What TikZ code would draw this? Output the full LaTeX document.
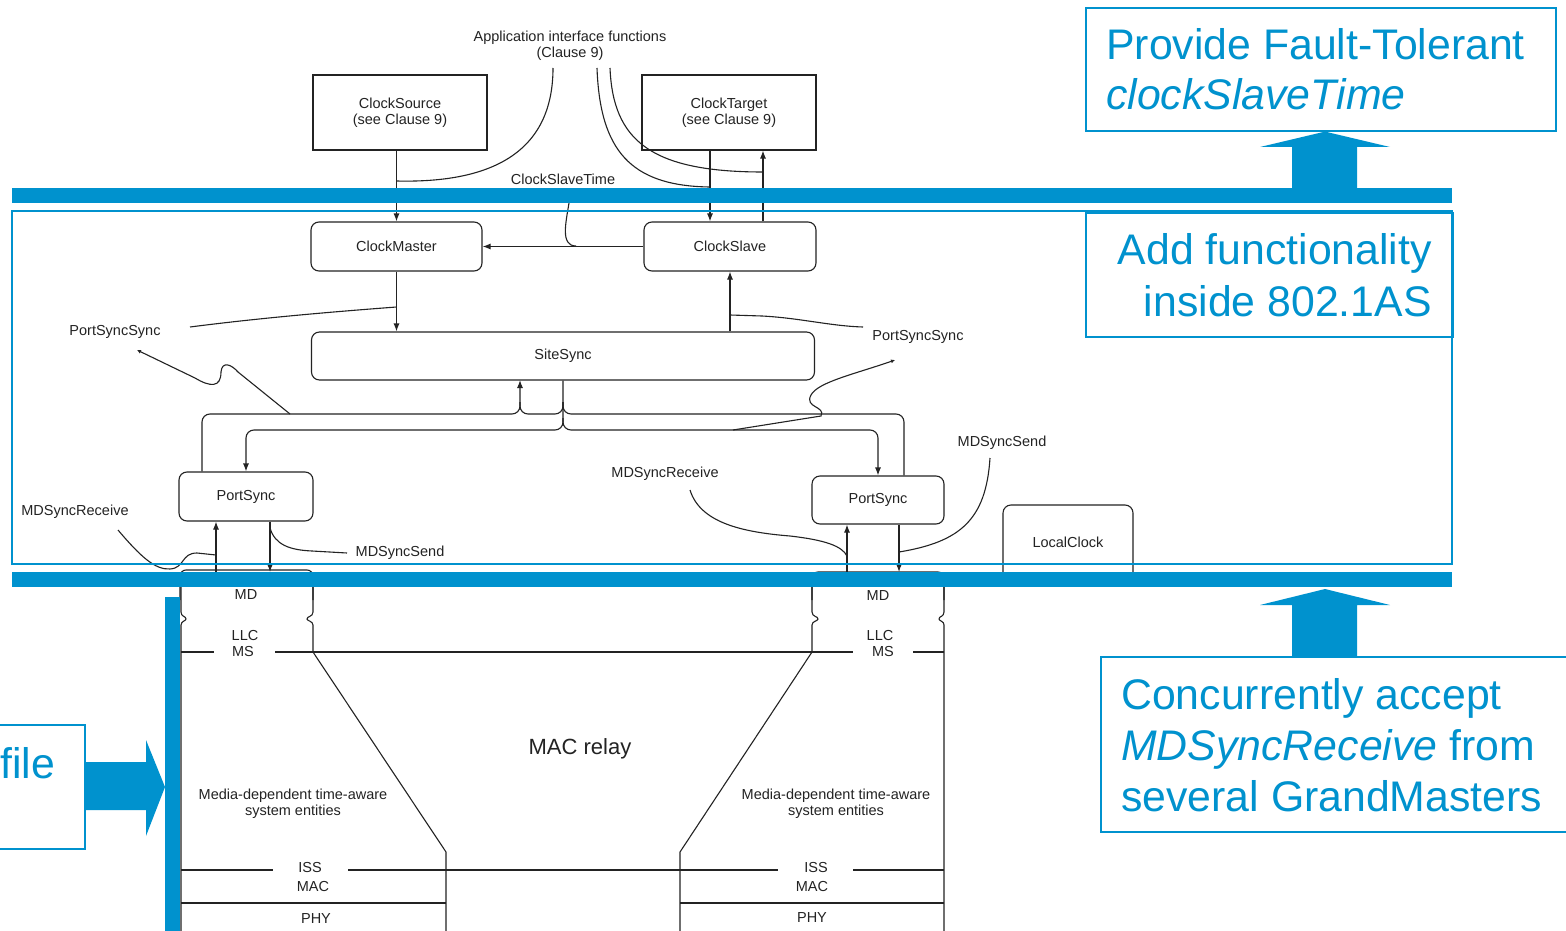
\documentclass[tikz,border=0pt]{standalone}
\usepackage{fontspec}
\setmainfont{Liberation Sans}
\usetikzlibrary{arrows.meta,calc}
\definecolor{accent}{RGB}{0,146,206}
\definecolor{ink}{RGB}{35,35,35}
\begin{document}
\begin{tikzpicture}[x=1pt,y=-1pt,
  small/.style={font=\fontsize{14.5}{16}\selectfont, text=ink, align=center, inner sep=0pt},
  big/.style={font=\fontsize{42.8}{51}\selectfont, text=accent, inner sep=0pt},
  wire/.style={draw=ink, line width=1.1pt},
  arr/.style={wire, -{Latex[length=8pt,width=6pt]}},
  tinyarr/.style={wire, {Latex[length=4pt,width=4pt]}-},
  sqbox/.style={wire, small, minimum width=174pt, minimum height=75pt},
  rbox/.style={wire, small, rounded corners=8pt, minimum height=49pt},
  callout/.style={draw=accent, line width=1.6pt, inner sep=0pt},
  bluebar/.style={fill=accent, draw=none},
]
\clip (0,0) rectangle (1566,931);
\fill[white] (0,0) rectangle (1566,931);

% ---------- application level ----------
\node[small] (api) at (570,45.5) {Application interface functions\\(Clause 9)};
\node[sqbox] (csrc) at (400,112.5) {ClockSource\\(see Clause 9)};
\node[sqbox] (ctgt) at (729,112.5) {ClockTarget\\(see Clause 9)};
\node[small] (cst) at (563,179) {ClockSlaveTime};

% ---------- 802.1AS functions ----------
\node[rbox, minimum width=171pt] (cm) at (396.5,246.5) {ClockMaster};
\node[rbox, minimum width=172pt] (cs) at (730,246.5) {ClockSlave};
\node[rbox, minimum width=503pt, minimum height=48pt] (ss) at (563,356) {SiteSync};
\node[rbox, minimum width=134pt] (psL) at (246,496.5) {PortSync};
\node[rbox, minimum width=132pt, minimum height=48pt] (psR) at (878,500) {PortSync};
\node[rbox, minimum width=130pt, minimum height=75pt] (lc) at (1068,542.5) {LocalClock};

\node[small] (pssL) at (115,332) {PortSyncSync};
\node[small] (pssR) at (918,337) {PortSyncSync};
\node[small] (mdrL) at (75,512) {MDSyncReceive};
\node[small] (mdsL) at (400,553) {MDSyncSend};
\node[small] (mdrR) at (665,474) {MDSyncReceive};
\node[small] (mdsR) at (1002,443) {MDSyncSend};

% interface points of the media-dependent entities
\coordinate (mdL) at (246,572);
\coordinate (mdR) at (878,572);

% application interface leaders
\draw[wire] (553,68) .. controls (553,160) and (480,183) .. (cm.north |- 0,181);
\draw[wire] (597,68) .. controls (600,150) and (630,186) .. ([xshift=-20pt]cs.north |- 0,187);
\draw[wire] (610,68) .. controls (613,140) and (650,172) .. ([xshift=33pt]cs.north |- 0,172);

% clock source / target connections
\draw[arr] (cm.north |- csrc.south) -- (cm.north);
\draw[arr] ([xshift=-20pt]cs.north |- ctgt.south) -- ([xshift=-20pt]cs.north);
\draw[arr] ([xshift=33pt]cs.north) -- ([xshift=33pt]cs.north |- ctgt.south);
\draw[arr] (cs.west) -- (cm.east);
\draw[wire] (569,203) .. controls (566,222) and (560,246) .. (576,246);

% SiteSync connections
\draw[arr] (cm.south) -- (cm.south |- ss.north);
\draw[arr] (cs.south |- ss.north) -- (cs.south);
\draw[wire] (190,327) .. controls (260,318) and (330,312) .. (cm.south |- 0,307);
\draw[wire] (cs.south |- 0,315) -- (762,316) .. controls (800,318) and (830,326) .. (863,327);

% PortSync <-> SiteSync loops
\draw[arr, rounded corners=8pt] ([xshift=-44pt]psL.north) |- (520,414) -- (520,380);
\draw[wire, rounded corners=8pt] (563,402) -- (563,414) -- (520,414) -- (520,402);
\draw[wire, rounded corners=8pt] (563,402) -- (563,414) -| ([xshift=26pt]psR.north);
\draw[arr, rounded corners=8pt] (ss.south) -- (563,430) -| (psL.north);
\draw[arr, rounded corners=8pt] (563,418) -- (563,430) -| (psR.north);

% PortSyncSync leaders
\draw[tinyarr] (137,350) -- (195,378) .. controls (210,387) and (221,388) .. (221,372)
  .. controls (222,361) and (231,364) .. (238,372) -- (290,414);
\draw[tinyarr] (895,360) .. controls (855,374) and (818,382) .. (811,395)
  .. controls (804,408) and (826,406) .. (821,416) -- (733,430);

% PortSync <-> MD
\draw[arr] ([xshift=-30pt]mdL) -- ([xshift=-30pt]psL.south);
\draw[arr] ([xshift=24pt]psL.south) -- ([xshift=24pt]mdL);
\draw[arr] ([xshift=-31pt]mdR) -- ([xshift=-31pt]psR.south);
\draw[arr] ([xshift=21pt]psR.south) -- ([xshift=21pt]mdR);

% MDSync leaders
\draw[wire] (118,530) .. controls (140,556) and (155,570) .. (170,569)
  .. controls (185,568) and (181,553) .. (197,553) -- ([xshift=-30pt]psL.south |- 0,555);
\draw[wire] ([xshift=24pt]psL.south |- 0,528) .. controls (275,545) and (290,550) .. (312,551) -- (347,553);
\draw[wire] (690,490) .. controls (700,522) and (740,532) .. (790,536)
  .. controls (825,540) and (842,546) .. ([xshift=-31pt]psR.south |- 0,556);
\draw[wire] (990,458) .. controls (986,520) and (960,542) .. ([xshift=21pt]psR.south |- 0,552);

% ---------- media-dependent layers ----------
\draw[wire, rounded corners=6pt] (180,600) -- (180,570) -- (313,570) -- (313,600);
\draw[wire, rounded corners=6pt] (812,600) -- (812,572) -- (944,572) -- (944,600);

\draw[wire] (181,587) -- (181,612) .. controls (181,617) and (186,616) .. (186,619)
  .. controls (186,621) and (181,621) .. (181,625) -- (181,931);
\draw[wire] (313,587) -- (313,612) .. controls (313,617) and (307,616) .. (307,619)
  .. controls (307,621) and (313,621) .. (313,625) -- (313,652) -- (446,852) -- (446,931);
\draw[wire] (812,587) -- (812,612) .. controls (812,617) and (818,616) .. (818,619)
  .. controls (818,621) and (812,621) .. (812,625) -- (812,652) -- (680,852) -- (680,931);
\draw[wire] (944,587) -- (944,612) .. controls (944,617) and (939,616) .. (939,619)
  .. controls (939,621) and (944,621) .. (944,625) -- (944,931);

\draw[wire] (181,652) -- (214,652);
\draw[wire] (275,652) -- (853,652);
\draw[wire] (913,652) -- (944,652);
\draw[wire] (181,870) -- (273,870);
\draw[wire] (348,870) -- (778,870);
\draw[wire] (853,870) -- (944,870);
\draw[wire] (181,903) -- (446,903);
\draw[wire] (680,903) -- (944,903);

\node[small] at (246,595) {MD};
\node[small] at (245,636) {LLC};
\node[small] at (243,652) {MS};
\node[small] at (878,596) {MD};
\node[small] at (880,636) {LLC};
\node[small] at (883,652) {MS};
\node[font=\fontsize{22}{26}\selectfont, text=ink, inner sep=0pt] at (580,749) {MAC relay};
\node[small] at (293,804) {Media-dependent time-aware\\system entities};
\node[small] at (836,804) {Media-dependent time-aware\\system entities};
\node[small] at (310,867) {ISS};
\node[small] at (313,886) {MAC};
\node[small] at (316,919) {PHY};
\node[small] at (816,867) {ISS};
\node[small] at (812,886) {MAC};
\node[small] at (812,918) {PHY};

% ---------- highlighting bars and frame ----------
\draw[draw=accent, line width=1.8pt] (12,211) rectangle (1452,564);
\fill[bluebar] (12,188) rectangle (1452,203);
\fill[bluebar] (12,572) rectangle (1452,587);
\fill[bluebar] (165,597) rectangle (180,931);

% ---------- callouts ----------
\node[callout, anchor=north west, minimum width=470pt, minimum height=123pt] (ft) at (1085,7) {};
\node[big, anchor=base west] at (1106,60) {Provide Fault-Tolerant};
\node[big, anchor=base west] at (1106,110) {\itshape clockSlaveTime};
\fill[bluebar] (1292,188) -- (1292,147) -- (1260,147) -- (ft.south -| 1325,0) -- (1390,147) -- (1357,147) -- (1357,188) -- cycle;

\node[callout, anchor=north west, minimum width=367pt, minimum height=124pt] (af) at (1085,212) {};
\node[big, anchor=base east] at (1432,264) {Add functionality};
\node[big, anchor=base east] at (1432,316) {inside 802.1AS};

\node[callout, anchor=north west, minimum width=500pt, minimum height=175pt] (cc) at (1100,656) {};
\node[big, anchor=base west] at (1121,709) {Concurrently accept};
\node[big, anchor=base west] at (1121,760) {\itshape MDSyncReceive\upshape{} from};
\node[big, anchor=base west] at (1121,811) {several GrandMasters};
\fill[bluebar] (cc.north -| 1292,0) -- (1292,605) -- (1260,605) -- (1325,589) -- (1390,605) -- (1357,605) -- (cc.north -| 1357,0) -- cycle;

\node[callout, anchor=north east, minimum width=200pt, minimum height=124pt] (pf) at (86,724) {};
\node[big, anchor=base west] at (0,778) {file};
\fill[bluebar] (pf.east |- 0,762) -- (146,762) -- (146,740) -- (165,787) -- (146,836) -- (146,810) -- (pf.east |- 0,810) -- cycle;
\end{tikzpicture}
\end{document}
